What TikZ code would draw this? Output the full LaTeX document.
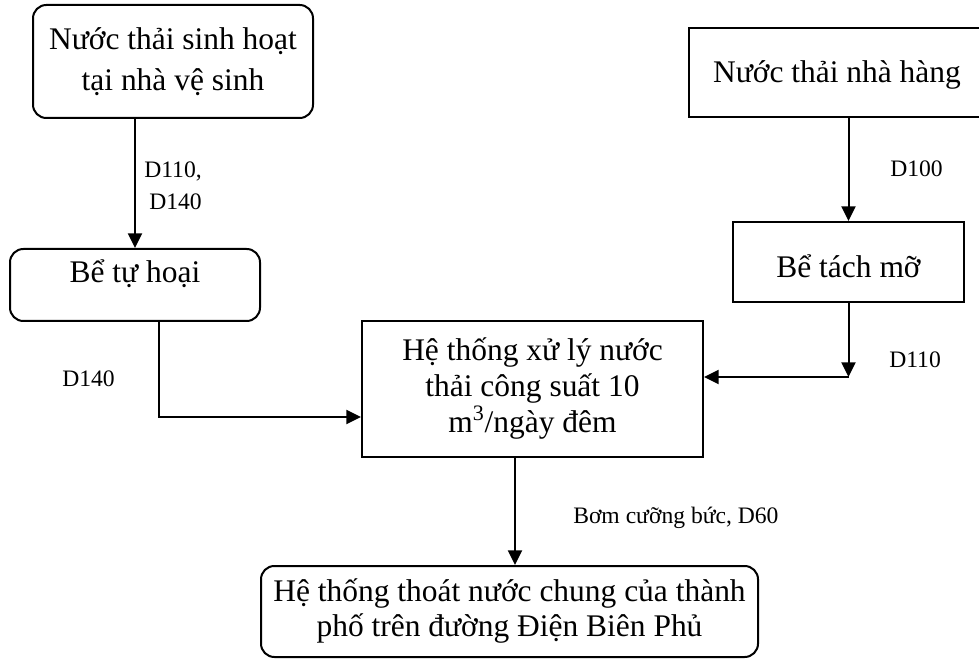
\documentclass[tikz,border=0pt]{standalone}
\usepackage{fontspec}
\setmainfont{Liberation Serif}
\usetikzlibrary{arrows.meta,calc}

\begin{document}
\begin{tikzpicture}[
  x=0.75pt, y=-0.75pt,
  every node/.style={inner sep=0pt, font=\fontsize{23.6pt}{27pt}\selectfont},
  tank/.style={draw, line width=1.5pt, align=center},
  roundtank/.style={tank, rounded corners=10pt},
  pipe/.style={line width=1.5pt, -{Triangle[width=10.5pt,length=11pt]}},
  pipelabel/.style={font=\fontsize{17.7pt}{24pt}\selectfont, align=right},
]
\useasboundingbox (0,0) rectangle (979,659);
\node[roundtank, minimum width=210pt, minimum height=84.75pt, font=\fontsize{23.6pt}{30.75pt}\selectfont] (sinhhoat) at (173,61.5) {Nước thải sinh hoạt\\tại nhà vệ sinh};
\node[roundtank, minimum width=187.5pt, minimum height=54pt, text height=16.5pt, text depth=19.5pt] (tuhoai) at (135,285) {Bể tự hoại};
\node[tank, minimum width=222pt, minimum height=66.75pt, text height=18pt, text depth=2.25pt] (nhahang) at (837,72.5) {Nước thải nhà hàng};
\node[tank, minimum width=173.25pt, minimum height=60pt, text height=24pt, text depth=0pt] (tachmo) at (848.5,262) {Bể tách mỡ};
\node[tank, minimum width=255.75pt, minimum height=102pt] (xuly) at (532.5,389) {Hệ thống xử lý nước\\thải công suất 10\\m\textsuperscript{3}/ngày đêm};
\node[roundtank, minimum width=372.75pt, minimum height=68.25pt, font=\fontsize{23.6pt}{26.25pt}\selectfont] (thoat) at (509.5,611.5) {Hệ thống thoát nước chung của thành\\phố trên đường Điện Biên Phủ};

\coordinate (outT) at ($(tuhoai.south)+(24,0)$);
\coordinate (inL) at ($(xuly.west)+(0,28)$);
\coordinate (inR) at ($(xuly.east)+(0,-12)$);
\coordinate (bendR) at (tachmo.south |- inR);
\coordinate (outX) at ($(xuly.south)+(-17.5,0)$);

\draw[pipe] (tuhoai.north |- sinhhoat.south) -- (tuhoai.north);
\draw[pipe] (outT) |- (inL);
\draw[pipe] (tachmo.north |- nhahang.south) -- (tachmo.north);
\draw[pipe] (tachmo.south) -- (bendR);
\draw[pipe] (bendR) -- (inR);
\draw[pipe] (outX) -- (outX |- thoat.north);

\node[pipelabel, anchor=east] (dSinhhoat) at (202,186) {D110,\\D140};
\node[pipelabel, anchor=base west] (dTuhoai) at (62,387) {D140};
\node[pipelabel, anchor=base west] (dNhahang) at (890,177) {D100};
\node[pipelabel, anchor=base west] (dTachmo) at (889,368) {D110};
\node[pipelabel, anchor=base west] (dBom) at (573,523) {Bơm cưỡng bức, D60};
\end{tikzpicture}
\end{document}
